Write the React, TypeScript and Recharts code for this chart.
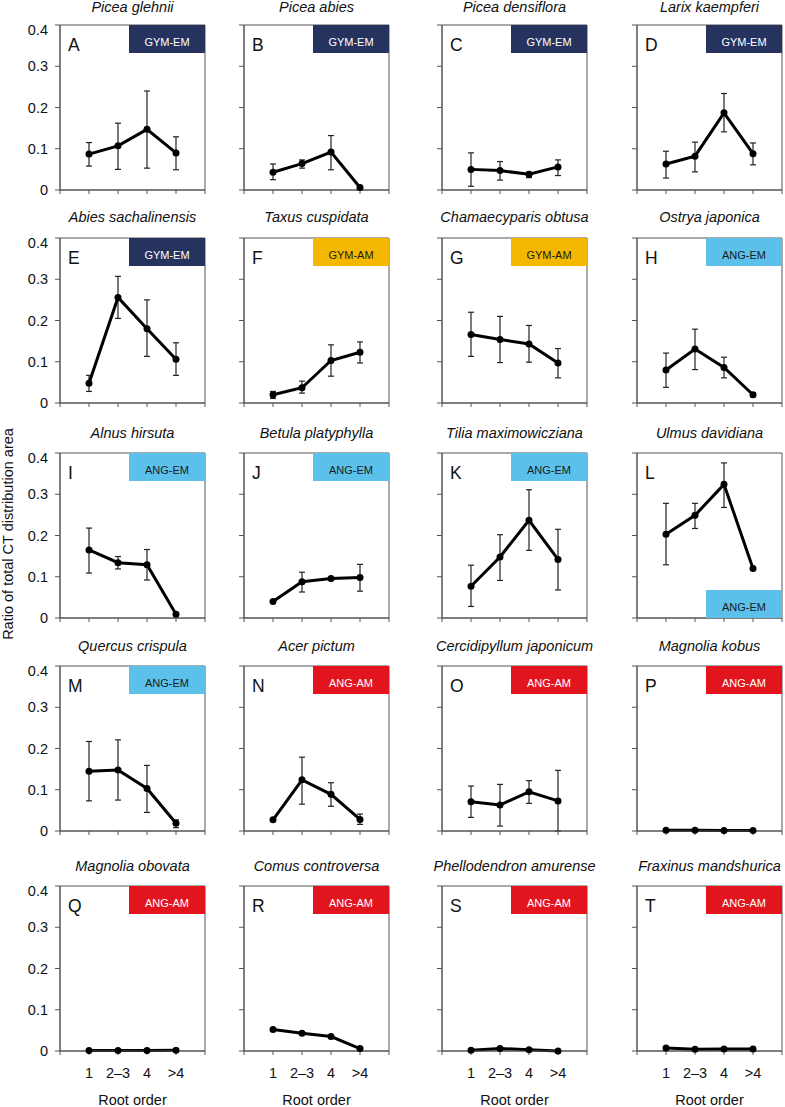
import React from 'react'
import { ErrorBar, Line, LineChart, ReferenceArea, XAxis, YAxis } from 'recharts'

// x 범주 (root order)
const ROOT_ORDERS = ['1', '2–3', '4', '>4']
const Y_TICKS = [0, 0.1, 0.2, 0.3, 0.4]

const SPECIES = [
  'Picea glehnii', 'Picea abies', 'Picea densiflora', 'Larix kaempferi',
  'Abies sachalinensis', 'Taxus cuspidata', 'Chamaecyparis obtusa', 'Ostrya japonica',
  'Alnus hirsuta', 'Betula platyphylla', 'Tilia maximowicziana', 'Ulmus davidiana',
  'Quercus crispula', 'Acer pictum', 'Cercidipyllum japonicum', 'Magnolia kobus',
  'Magnolia obovata', 'Comus controversa', 'Phellodendron amurense', 'Fraxinus mandshurica',
]
const LETTERS = 'ABCDEFGHIJKLMNOPQRST'.split('')
const GROUPS = [
  'GYM-EM', 'GYM-EM', 'GYM-EM', 'GYM-EM',
  'GYM-EM', 'GYM-AM', 'GYM-AM', 'ANG-EM',
  'ANG-EM', 'ANG-EM', 'ANG-EM', 'ANG-EM',
  'ANG-EM', 'ANG-AM', 'ANG-AM', 'ANG-AM',
  'ANG-AM', 'ANG-AM', 'ANG-AM', 'ANG-AM',
]

// 평균값
const MEAN = [
  [0.087, 0.107, 0.147, 0.090],
  [0.043, 0.064, 0.092, 0.006],
  [0.050, 0.047, 0.038, 0.056],
  [0.063, 0.082, 0.187, 0.088],
  [0.048, 0.256, 0.180, 0.106],
  [0.020, 0.037, 0.103, 0.123],
  [0.166, 0.154, 0.143, 0.097],
  [0.080, 0.131, 0.086, 0.020],
  [0.165, 0.134, 0.129, 0.009],
  [0.040, 0.088, 0.096, 0.098],
  [0.077, 0.148, 0.237, 0.142],
  [0.203, 0.249, 0.324, 0.120],
  [0.145, 0.148, 0.103, 0.019],
  [0.027, 0.124, 0.089, 0.028],
  [0.071, 0.063, 0.095, 0.073],
  [0.002, 0.002, 0.001, 0.001],
  [0.001, 0.001, 0.001, 0.002],
  [0.052, 0.043, 0.035, 0.006],
  [0.002, 0.006, 0.003, 0.000],
  [0.007, 0.004, 0.005, 0.005],
]

// 오차 막대 위쪽 끝
const HIGH = [
  [0.115, 0.162, 0.240, 0.129],
  [0.063, 0.073, 0.132, 0.006],
  [0.090, 0.069, 0.043, 0.073],
  [0.094, 0.116, 0.234, 0.114],
  [0.067, 0.307, 0.250, 0.146],
  [0.028, 0.053, 0.141, 0.148],
  [0.220, 0.210, 0.188, 0.132],
  [0.121, 0.179, 0.111, 0.025],
  [0.218, 0.149, 0.166, 0.009],
  [0.040, 0.111, 0.098, 0.130],
  [0.128, 0.202, 0.311, 0.215],
  [0.278, 0.278, 0.376, 0.120],
  [0.217, 0.221, 0.159, 0.027],
  [0.027, 0.179, 0.117, 0.041],
  [0.109, 0.113, 0.122, 0.147],
  [0.002, 0.002, 0.001, 0.001],
  [0.001, 0.001, 0.001, 0.002],
  [0.052, 0.043, 0.035, 0.006],
  [0.002, 0.006, 0.003, 0.000],
  [0.007, 0.004, 0.005, 0.005],
]

// 오차 막대 아래쪽 끝
const LOW = [
  [0.058, 0.050, 0.053, 0.049],
  [0.025, 0.053, 0.049, 0.006],
  [0.009, 0.024, 0.030, 0.035],
  [0.029, 0.044, 0.141, 0.061],
  [0.028, 0.205, 0.113, 0.067],
  [0.011, 0.024, 0.065, 0.097],
  [0.113, 0.098, 0.099, 0.061],
  [0.038, 0.081, 0.061, 0.015],
  [0.109, 0.119, 0.092, 0.009],
  [0.040, 0.063, 0.094, 0.065],
  [0.028, 0.091, 0.164, 0.068],
  [0.129, 0.217, 0.268, 0.120],
  [0.073, 0.075, 0.045, 0.008],
  [0.027, 0.065, 0.060, 0.016],
  [0.033, 0.012, 0.067, 0.000],
  [0.002, 0.002, 0.001, 0.001],
  [0.001, 0.001, 0.001, 0.002],
  [0.052, 0.043, 0.035, 0.006],
  [0.002, 0.006, 0.003, 0.000],
  [0.007, 0.004, 0.005, 0.005],
]

const BADGE_COLORS: Record<string, { bg: string; fg: string }> = {
  'GYM-EM': { bg: '#26335f', fg: '#ffffff' },
  'GYM-AM': { bg: '#f5b800', fg: '#1a1a1a' },
  'ANG-EM': { bg: '#5cc1ea', fg: '#1a1a1a' },
  'ANG-AM': { bg: '#e2151f', fg: '#ffffff' },
}

// 레이아웃
const FONT = '"Liberation Sans", Arial, Helvetica, sans-serif'
const COL_LEFT = [60, 244, 442, 637]
const ROW_TOP = [25, 238, 453, 666, 886]
const TITLE_GAP = [12.5, 15.5, 15, 15, 15]
const PLOT_W = 145
const PLOT_H = 165
const Y_AXIS_W = 40
const X_AXIS_H = 40
const M_TOP = 4
const M_RIGHT = 4

function Panel({ i }: { i: number }) {
  const col = i % 4
  const row = Math.floor(i / 4)
  const left = COL_LEFT[col]
  const top = ROW_TOP[row]
  const firstCol = col === 0
  const bottomRow = row === 4
  const badge = BADGE_COLORS[GROUPS[i]]
  const badgeBottom = LETTERS[i] === 'L'

  const data = ROOT_ORDERS.map((order, k) => ({
    x: k + 1,
    order,
    mean: MEAN[i][k],
    err: [MEAN[i][k] - LOW[i][k], HIGH[i][k] - MEAN[i][k]],
  }))

  const tickStyle = { fontSize: 14.5, fill: '#111', fontFamily: FONT }

  return (
    <>
      <div
        style={{
          position: 'absolute',
          left: left + PLOT_W / 2 - 110,
          width: 220,
          top: top - TITLE_GAP[row] - 13.5,
          lineHeight: '17px',
          fontSize: 14.5,
          fontStyle: 'italic',
          fontFamily: FONT,
          textAlign: 'center',
          whiteSpace: 'nowrap',
          color: '#111',
        }}
      >
        {SPECIES[i]}
      </div>
      <div style={{ position: 'absolute', left: left - Y_AXIS_W, top: top - M_TOP }}>
        <LineChart
          width={Y_AXIS_W + PLOT_W + M_RIGHT}
          height={M_TOP + PLOT_H + X_AXIS_H}
          data={data}
          margin={{ top: M_TOP, right: M_RIGHT, left: 0, bottom: 0 }}
        >
          <XAxis
            type="number"
            dataKey="x"
            domain={[0, 5]}
            ticks={[0, 1, 2, 3, 4, 5]}
            height={X_AXIS_H}
            tickSize={4}
            tickMargin={13}
            stroke="#555"
            tick={tickStyle}
            tickFormatter={(v: number) => (bottomRow ? ROOT_ORDERS[v - 1] ?? '' : '')}
          />
          <YAxis
            type="number"
            domain={[0, 0.4]}
            ticks={Y_TICKS}
            width={Y_AXIS_W}
            tickSize={5}
            tickMargin={7}
            stroke="#555"
            tick={tickStyle}
            tickFormatter={(v: number) => (firstCol ? (v === 0 ? '0' : v.toFixed(1)) : '')}
          />
          <ReferenceArea x1={0} x2={5} y1={0} y2={0.4} fill="none" stroke="#555" strokeWidth={1} />
          <Line
            dataKey="mean"
            stroke="#000"
            strokeWidth={3}
            dot={{ r: 3.5, fill: '#000', stroke: '#000', strokeWidth: 0 }}
            activeDot={false}
            isAnimationActive={false}
          >
            <ErrorBar dataKey="err" direction="y" width={3} stroke="#222" strokeWidth={1.2} />
          </Line>
        </LineChart>
      </div>
      <div
        style={{
          position: 'absolute',
          left: left + 69,
          width: PLOT_W - 69,
          top: badgeBottom ? top + PLOT_H - 28 : top,
          height: 28,
          boxSizing: 'border-box',
          paddingTop: 5,
          background: badge.bg,
          color: badge.fg,
          fontFamily: FONT,
          fontSize: 11,
          display: 'flex',
          alignItems: 'center',
          justifyContent: 'center',
        }}
      >
        {GROUPS[i]}
      </div>
      <div
        style={{
          position: 'absolute',
          left: left + 8,
          top: top + 9.5,
          fontFamily: FONT,
          fontSize: 17.5,
          lineHeight: '20px',
          color: '#111',
        }}
      >
        {LETTERS[i]}
      </div>
      {bottomRow && (
        <div
          style={{
            position: 'absolute',
            left: left + PLOT_W / 2 - 60,
            width: 120,
            top: 1091.5,
            fontFamily: FONT,
            fontSize: 14.5,
            lineHeight: '17px',
            textAlign: 'center',
            color: '#111',
          }}
        >
          Root order
        </div>
      )}
    </>
  )
}

export default function App() {
  return (
    <div
      style={{
        position: 'absolute',
        left: 0,
        top: 0,
        width: 785,
        height: 1107,
        background: '#fff',
        overflow: 'hidden',
      }}
    >
      {SPECIES.map((_, i) => (
        <Panel key={i} i={i} />
      ))}
      <div
        style={{
          position: 'absolute',
          left: 8 - 150,
          top: 534 - 10,
          width: 300,
          height: 20,
          lineHeight: '20px',
          fontFamily: FONT,
          fontSize: 14.5,
          textAlign: 'center',
          color: '#111',
          transform: 'rotate(-90deg)',
        }}
      >
        Ratio of total CT distribution area
      </div>
    </div>
  )
}
